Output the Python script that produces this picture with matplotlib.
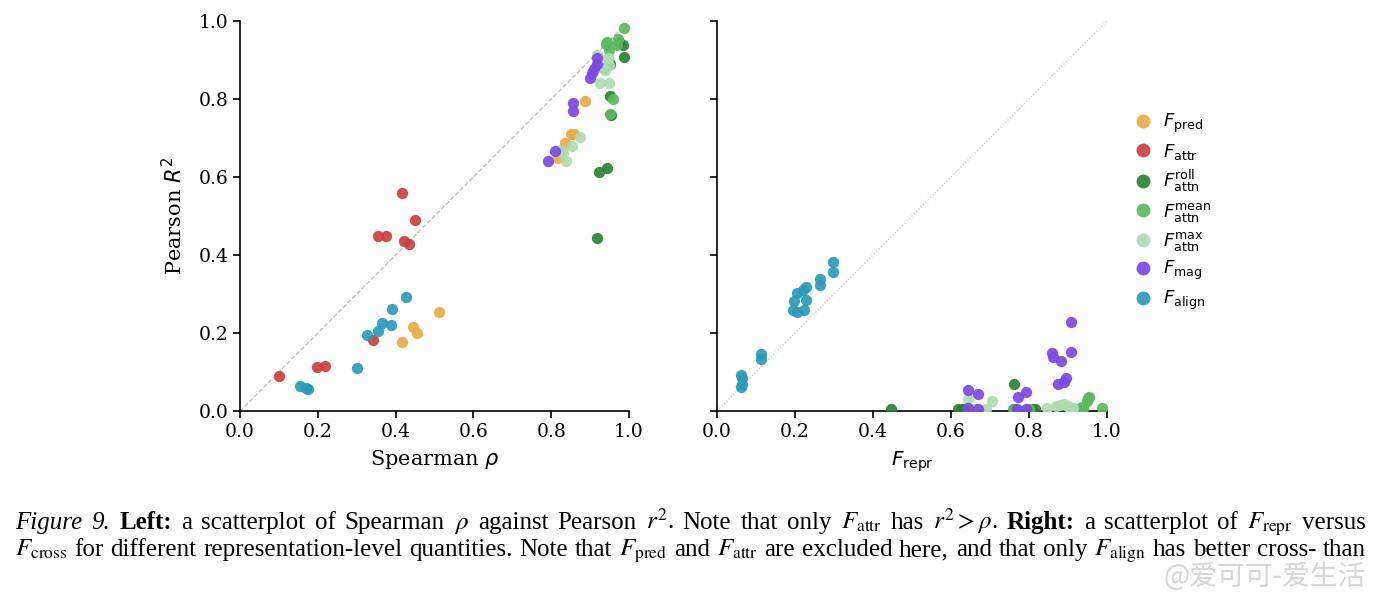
import matplotlib
matplotlib.use("Agg")
import matplotlib.pyplot as plt
from matplotlib.lines import Line2D

W, H = 1381, 599

# ---- colours / labels (legend order)
names = ["pred", "attr", "roll", "mean", "max", "mag", "align"]
colors = {"pred": "#e9ab48", "attr": "#cc3f3f", "roll": "#2a8233",
          "mean": "#5cb85f", "max": "#aedcb0", "mag": "#7c48e3", "align": "#2a9bb9"}
labels = {"pred": r"$F_{\mathrm{pred}}$", "attr": r"$F_{\mathrm{attr}}$",
          "roll": r"$F^{\mathrm{roll}}_{\mathrm{attn}}$",
          "mean": r"$F^{\mathrm{mean}}_{\mathrm{attn}}$",
          "max": r"$F^{\mathrm{max}}_{\mathrm{attn}}$",
          "mag": r"$F_{\mathrm{mag}}$", "align": r"$F_{\mathrm{align}}$"}

# ---- left panel: Spearman rho vs Pearson R^2
pred_rho = [0.512, 0.446, 0.454, 0.416, 0.888, 0.851, 0.858, 0.836, 0.818]
pred_r2 = [0.255, 0.215, 0.199, 0.176, 0.796, 0.710, 0.710, 0.686, 0.650]
attr_rho = [0.099, 0.199, 0.218, 0.343, 0.417, 0.449, 0.354, 0.376, 0.422, 0.435]
attr_r2 = [0.090, 0.112, 0.115, 0.182, 0.560, 0.491, 0.450, 0.450, 0.435, 0.427]
roll_rho = [0.988, 0.985, 0.951, 0.951, 0.922, 0.943, 0.917, 0.975, 0.953]
roll_r2 = [0.907, 0.938, 0.808, 0.891, 0.614, 0.622, 0.443, 0.945, 0.760]
mean_rho = [0.987, 0.944, 0.973, 0.968, 0.949, 0.960, 0.951, 0.940, 0.935]
mean_r2 = [0.983, 0.945, 0.953, 0.938, 0.926, 0.800, 0.762, 0.940, 0.880]
max_rho = [0.875, 0.853, 0.831, 0.837, 0.925, 0.949, 0.947, 0.949, 0.917, 0.938, 0.826]
max_r2 = [0.703, 0.679, 0.661, 0.641, 0.842, 0.842, 0.904, 0.887, 0.913, 0.874, 0.668]
mag_rho = [0.919, 0.917, 0.910, 0.904, 0.900, 0.856, 0.856, 0.810, 0.793]
mag_r2 = [0.904, 0.891, 0.878, 0.866, 0.853, 0.789, 0.768, 0.666, 0.641]
align_rho = [0.427, 0.392, 0.366, 0.388, 0.356, 0.326, 0.301, 0.155, 0.175, 0.170]
align_r2 = [0.293, 0.261, 0.226, 0.221, 0.204, 0.194, 0.109, 0.063, 0.057, 0.060]

# ---- right panel: F_repr vs F_cross
roll_repr = [0.762, 0.446, 0.619, 0.627, 0.635, 0.762, 0.807, 0.815, 0.905, 0.930]
roll_cross = [0.068, 0.005, 0.006, 0.006, 0.006, 0.006, 0.005, 0.005, 0.005, 0.005]
mean_repr = [0.955, 0.948, 0.936, 0.988, 0.939, 0.952, 0.920, 0.760, 0.800]
mean_cross = [0.035, 0.025, 0.010, 0.007, 0.007, 0.033, 0.005, 0.005, 0.006]
max_repr = [0.644, 0.704, 0.690, 0.845, 0.870, 0.880, 0.897, 0.905, 0.913, 0.890, 0.660]
max_cross = [0.031, 0.026, 0.005, 0.007, 0.012, 0.015, 0.013, 0.010, 0.008, 0.018, 0.005]
mag_repr = [0.908, 0.908, 0.858, 0.862, 0.881, 0.895, 0.875, 0.644, 0.670, 0.792,
            0.773, 0.644, 0.668, 0.768, 0.792, 0.890]
mag_cross = [0.228, 0.152, 0.148, 0.138, 0.129, 0.084, 0.068, 0.054, 0.043, 0.048,
             0.037, 0.007, 0.005, 0.004, 0.004, 0.075]
align_repr = [0.297, 0.297, 0.264, 0.264, 0.228, 0.221, 0.204, 0.197, 0.228, 0.196,
              0.206, 0.223, 0.112, 0.112, 0.061, 0.065, 0.061, 0.065]
align_cross = [0.381, 0.356, 0.338, 0.324, 0.318, 0.310, 0.302, 0.282, 0.285, 0.259,
               0.255, 0.259, 0.146, 0.133, 0.093, 0.085, 0.062, 0.070]

left_data = {"pred": (pred_rho, pred_r2), "attr": (attr_rho, attr_r2),
             "roll": (roll_rho, roll_r2), "mean": (mean_rho, mean_r2),
             "max": (max_rho, max_r2), "mag": (mag_rho, mag_r2),
             "align": (align_rho, align_r2)}
right_data = {"roll": (roll_repr, roll_cross), "mean": (mean_repr, mean_cross),
              "max": (max_repr, max_cross), "mag": (mag_repr, mag_cross),
              "align": (align_repr, align_cross)}

ticks = [0.0, 0.2, 0.4, 0.6, 0.8, 1.0]
tick_labels = ["0.0", "0.2", "0.4", "0.6", "0.8", "1.0"]

fig = plt.figure(figsize=(W / 100, H / 100), dpi=100)
axL = fig.add_axes([240 / W, 1 - 411 / H, 389 / W, 390 / H])
axR = fig.add_axes([717 / W, 1 - 411 / H, 390 / W, 390 / H])

for ax in (axL, axR):
    ax.set_xlim(0, 1)
    ax.set_ylim(0, 1)
    ax.spines["top"].set_visible(False)
    ax.spines["right"].set_visible(False)
    for s in ("left", "bottom"):
        ax.spines[s].set_linewidth(1.2)
    ax.set_xticks(ticks)
    ax.set_xticklabels(tick_labels, family="DejaVu Serif", fontsize=13.5)
    ax.set_yticks(ticks)
    ax.tick_params(length=5, width=1.2)

axL.set_yticklabels(tick_labels, family="DejaVu Serif", fontsize=13.5)
axR.set_yticklabels([])

axL.plot([0, 1], [0, 1], ls="--", color="#bdbdbd", lw=0.9, zorder=1)
axR.plot([0, 1], [0, 1], ls=":", color="#cfcfcf", lw=0.9, zorder=1)

for n in names:
    x, y = left_data[n]
    axL.scatter(x, y, s=66, color=colors[n], alpha=0.92, lw=0, zorder=3)
for n in ["roll", "mean", "max", "mag", "align"]:
    x, y = right_data[n]
    axR.scatter(x, y, s=66, color=colors[n], alpha=0.92, lw=0, zorder=3)

axL.set_xlabel(r"Spearman $\rho$", family="DejaVu Serif", fontsize=15, labelpad=5)
axL.set_ylabel(r"Pearson $R^2$", family="DejaVu Serif", fontsize=15, labelpad=9)
axR.set_xlabel(r"$F_{\mathrm{repr}}$", fontsize=14.5, labelpad=6)

handles = [Line2D([], [], ls="", marker="o", ms=10, color=colors[n], alpha=0.92,
                  mew=0) for n in names]
fig.legend(handles, [labels[n] for n in names], loc="center left",
           bbox_to_anchor=(1116 / W, 1 - 212 / H), frameon=False, fontsize=13,
           handletextpad=0.5, labelspacing=0.35, handlelength=1.2)

# ---- caption, justified lines
renderer = fig.canvas.get_renderer()


def justified(y_px, tokens, x0=15, x1=1366, fs=18):
    items = []
    for s, st in tokens:
        kw = dict(fontsize=fs, family="Liberation Serif", math_fontfamily="stix")
        if st == "i":
            kw["style"] = "italic"
        if st == "b":
            kw["weight"] = "bold"
        t = fig.text(0, 1 - y_px / H, s, va="baseline", ha="left", **kw)
        items.append((t, t.get_window_extent(renderer).width))
    gap = (x1 - x0 - sum(w for _, w in items)) / (len(items) - 1)
    x = x0
    for t, w in items:
        t.set_x(x / W)
        x += w + gap


line1 = [("Figure", "i"), ("9.", "i"), ("Left:", "b"), ("a", ""), ("scatterplot", ""),
         ("of", ""), ("Spearman", ""), (r"$\rho$", ""), ("against", ""),
         ("Pearson", ""), (r"$r^2$.", ""), ("Note", ""), ("that", ""), ("only", ""),
         (r"$F_{\mathrm{attr}}$", ""), ("has", ""), (r"$r^2 > \rho$.", ""),
         ("Right:", "b"), ("a", ""), ("scatterplot", ""), ("of", ""),
         (r"$F_{\mathrm{repr}}$", ""), ("versus", "")]
line2 = [(r"$F_{\mathrm{cross}}$", ""), ("for", ""), ("different", ""),
         ("representation-level", ""), ("quantities.", ""), ("Note", ""), ("that", ""),
         (r"$F_{\mathrm{pred}}$", ""), ("and", ""), (r"$F_{\mathrm{attr}}$", ""),
         ("are", ""), ("excluded", ""), ("here,", ""), ("and", ""), ("that", ""),
         ("only", ""), (r"$F_{\mathrm{align}}$", ""), ("has", ""), ("better", ""),
         ("cross-", ""), ("than", "")]
justified(529, line1)
justified(556, line2)

# watermark
fig.text(1366 / W, 1 - 577 / H, "@爱可可-爱生活", ha="right", va="center",
         fontsize=20, color="#cfcfcf", alpha=0.85,
         family=["Noto Sans CJK SC", "DejaVu Sans"])

fig.savefig("out.png", dpi=100)
